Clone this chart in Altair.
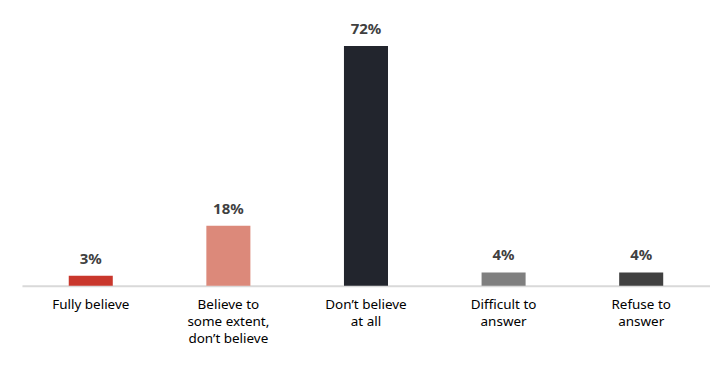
import altair as alt
import pandas as pd

categories = ["Fully believe", "Believe to some extent, don't believe", "Don't believe at all",
              "Difficult to answer", "Refuse to answer"]
display = ["Fully believe", "Believe to|some extent,|don’t believe", "Don’t believe|at all",
           "Difficult to|answer", "Refuse to|answer"]
values = [3, 18, 72, 4, 4]
colors = ["#C9372C", "#DC897A", "#22252D", "#7F7F7F", "#404040"]

df = pd.DataFrame({"cat": categories, "disp": display, "val": values,
                   "lab": [f"{v}%" for v in values]})

x = alt.X("disp:N", sort=display, title=None,
          scale=alt.Scale(paddingInner=0.68, paddingOuter=0.34),
          axis=alt.Axis(labelAngle=0, labelExpr="split(datum.label, '|')",
                        labelFont="Noto Sans", labelFontSize=13.5, labelColor="#000000",
                        labelLineHeight=17, labelPadding=12, ticks=False,
                        domainColor="#D9D9D9", domainWidth=2, labelBaseline="top"))
y = alt.Y("val:Q", title=None, scale=alt.Scale(domain=[0, 80]), axis=None)

bars = alt.Chart(df).mark_bar().encode(
    x=x, y=y,
    color=alt.Color("disp:N", sort=display, scale=alt.Scale(domain=display, range=colors), legend=None),
)
text = alt.Chart(df).mark_text(baseline="bottom", dy=-9, font="Noto Sans", fontSize=15,
                               fontWeight="bold", color="#404040").encode(
    x=alt.X("disp:N", sort=display), y="val:Q", text="lab:N")

chart = (bars + text).properties(
    width=690, height=267,
    autosize=alt.AutoSizeParams(type="none"),
    padding={"left": 14, "top": 11, "right": 0, "bottom": 80},
).configure_view(stroke=None)

chart.save("out.html", embed_options={"renderer": "svg", "actions": False})
